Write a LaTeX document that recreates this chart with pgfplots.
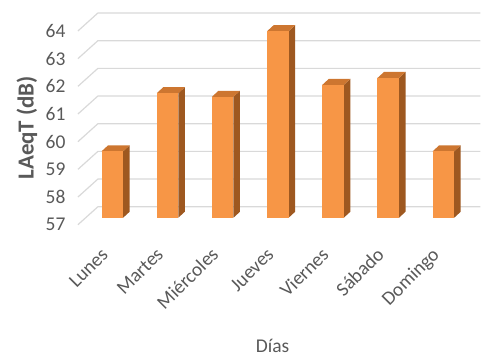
\documentclass[border=0pt]{standalone}
\usepackage{pgfplots}
\pgfplotsset{compat=1.18}
\usepackage{graphicx}
\usepackage{fontspec}
\setmainfont{Carlito}
\definecolor{frontc}{RGB}{247,150,70}
\definecolor{topc}{RGB}{205,118,48}
\definecolor{sidec}{RGB}{158,88,32}
\definecolor{gridc}{RGB}{217,217,217}
\definecolor{textc}{RGB}{89,89,89}
% one 3-D column: #1 = category index, #2 = value (dB)
\newcommand{\cuboid}[2]{%
\pgfmathsetmacro{\xl}{#1-0.195}%
\pgfmathsetmacro{\xr}{#1+0.195}%
\pgfmathsetmacro{\xlb}{#1-0.195+0.118}%
\pgfmathsetmacro{\xrb}{#1+0.195+0.118}%
\pgfmathsetmacro{\yt}{#2+0.217}%
\addplot[fill=sidec, draw=none] coordinates {(\xr,57) (\xrb,57.217) (\xrb,\yt) (\xr,#2)} --cycle;
\addplot[fill=topc, draw=none] coordinates {(\xl,#2) (\xr,#2) (\xrb,\yt) (\xlb,\yt)} --cycle;
\addplot[fill=frontc, draw=none] coordinates {(\xl,57) (\xr,57) (\xr,#2) (\xl,#2)} --cycle;
}
\tikzset{daylabel/.style={anchor=north east, font=\fontsize{19.5}{20}\selectfont, text=textc, inner sep=0pt}}
\newcommand{\dlab}[1]{\rotatebox{45}{\strut #1}}
\begin{document}
\begin{tikzpicture}
\begin{axis}[
  width=481pt, height=358pt, scale only axis,
  xmin=-2.036, xmax=6.670, ymin=51.948, ymax=64.867,
  axis line style={draw=none}, tick style={draw=none}, major tick length=0pt,
  clip=false,
  ytick={56.747,57.747,58.747,59.747,60.747,61.747,62.747,63.747},
  yticklabels={57,58,59,60,61,62,63,64},
  yticklabel style={font=\fontsize{19.5}{20}\selectfont, text=textc, anchor=east, xshift=69pt},
  xtick=\empty,
  xlabel={Días}, ylabel={LAeqT (dB)},
  every axis x label/.style={at={(rel axis cs:0.5676,0.0335)}, anchor=center, font=\fontsize{19.5}{20}\selectfont, text=textc},
  every axis y label/.style={at={(rel axis cs:0.0561,0.6425)}, rotate=90, anchor=center, font=\bfseries\fontsize{23}{24}\selectfont, text=textc},
]
% back wall and left wall grid lines
\addplot[gridc, line width=1.2pt] coordinates {(-0.624,56.747) (-0.262,57.397) (6.670,57.397)};
\addplot[gridc, line width=1.2pt] coordinates {(-0.624,57.747) (-0.262,58.397) (6.670,58.397)};
\addplot[gridc, line width=1.2pt] coordinates {(-0.624,58.747) (-0.262,59.397) (6.670,59.397)};
\addplot[gridc, line width=1.2pt] coordinates {(-0.624,59.747) (-0.262,60.397) (6.670,60.397)};
\addplot[gridc, line width=1.2pt] coordinates {(-0.624,60.747) (-0.262,61.397) (6.670,61.397)};
\addplot[gridc, line width=1.2pt] coordinates {(-0.624,61.747) (-0.262,62.397) (6.670,62.397)};
\addplot[gridc, line width=1.2pt] coordinates {(-0.624,62.747) (-0.262,63.397) (6.670,63.397)};
\addplot[gridc, line width=1.2pt] coordinates {(-0.624,63.747) (-0.262,64.397) (6.670,64.397)};
% columns
\cuboid{0}{59.40}
\cuboid{1}{61.50}
\cuboid{2}{61.37}
\cuboid{3}{63.74}
\cuboid{4}{61.80}
\cuboid{5}{62.05}
\cuboid{6}{59.40}
% category labels
\node[daylabel] at (axis cs:0.022,55.99) {\dlab{Lunes}};
\node[daylabel] at (axis cs:1.022,55.99) {\dlab{Martes}};
\node[daylabel] at (axis cs:2.022,55.99) {\dlab{Miércoles}};
\node[daylabel] at (axis cs:3.022,55.99) {\dlab{Jueves}};
\node[daylabel] at (axis cs:4.022,55.99) {\dlab{Viernes}};
\node[daylabel] at (axis cs:5.022,55.99) {\dlab{Sábado}};
\node[daylabel] at (axis cs:6.022,55.99) {\dlab{Domingo}};
\end{axis}
\end{tikzpicture}
\end{document}
